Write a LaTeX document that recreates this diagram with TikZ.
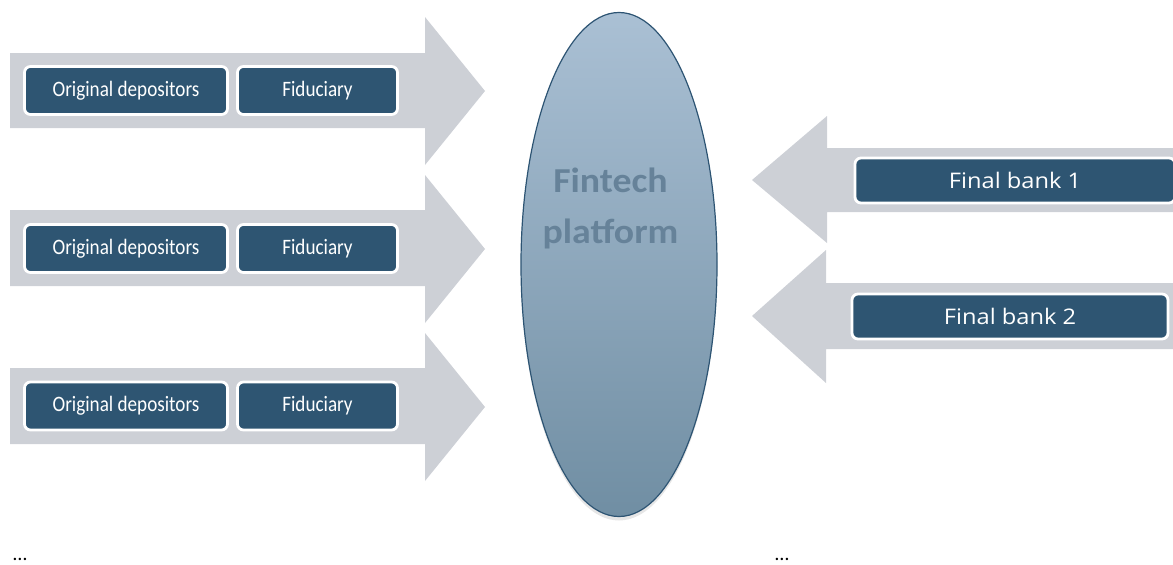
\documentclass[tikz,border=0pt]{standalone}
\usepackage{fontspec}
\setmainfont{Carlito}
\newfontfamily\tilefont[FakeStretch=0.87]{Carlito}
\newfontfamily\hubfont[FakeStretch=1.08]{Carlito}
\newfontfamily\bankfont[FakeStretch=1.1]{Open Sans}
\usetikzlibrary{shapes.geometric,shadows}
\definecolor{arrowgray}{RGB}{205,208,214}
\definecolor{boxblue}{RGB}{46,85,114}
\definecolor{platformtop}{RGB}{170,192,212}
\definecolor{platformbottom}{RGB}{112,142,163}
\definecolor{platformline}{RGB}{45,84,115}
\definecolor{platformtext}{RGB}{102,130,153}
\begin{document}
\begin{tikzpicture}
      [
      x=1pt,y=-1pt,
      flow/.style={fill=arrowgray,draw=none},
      tile/.style={rectangle,rounded corners=6pt,fill=boxblue,draw=white,line width=2.8pt,text=white,inner sep=0pt},
      depobox/.style={tile,font=\tilefont\fontsize{22}{25}\selectfont,minimum height=48pt},
      bankbox/.style={tile,font=\bankfont\fontsize{21.5}{25}\selectfont,minimum height=45pt},
      platform/.style={ellipse,draw=platformline,line width=1.2pt,top color=platformtop,bottom color=platformbottom,inner sep=0pt,minimum width=196pt,minimum height=504pt,
        drop shadow={opacity=0.2,shadow xshift=0pt,shadow yshift=-4pt}},
      etc/.style={font=\fontsize{20}{22}\selectfont,anchor=base,inner sep=0pt}
      ]
      \useasboundingbox (0,0) rectangle (1173,565);

      % arrows into the platform
      \draw [flow] (10,53) -- (425,53) -- (425,17) -- (485,91) -- (425,165) -- (425,128) -- (10,128) -- cycle;
      \draw [flow] (10,210) -- (425,210) -- (425,175) -- (485,249) -- (425,323) -- (425,286) -- (10,286) -- cycle;
      \draw [flow] (10,368) -- (425,368) -- (425,333) -- (485,407) -- (425,481) -- (425,444) -- (10,444) -- cycle;

      % arrows out of the platform
      \draw [flow] (1180,148) -- (827,148) -- (827,116) -- (752,180) -- (827,243) -- (827,212) -- (1180,212) -- cycle;
      \draw [flow] (1180,283) -- (826,283) -- (826,250) -- (752,316) -- (826,383) -- (826,349) -- (1180,349) -- cycle;

      \node (dep1) at (126,90.5) [depobox,minimum width=203pt] {Original depositors};
      \node (fid1) at (317.5,90.5) [depobox,minimum width=160pt] {Fiduciary};
      \node (dep2) at (126,248.5) [depobox,minimum width=203pt] {Original depositors};
      \node (fid2) at (317.5,248.5) [depobox,minimum width=160pt] {Fiduciary};
      \node (dep3) at (126,406) [depobox,minimum width=203pt] {Original depositors};
      \node (fid3) at (317.5,406) [depobox,minimum width=160pt] {Fiduciary};

      \node (platform) at (619,264.5) [platform] {};
      \node (platformlabel) at ([xshift=-8.5pt,yshift=56pt]platform.center) [align=center,text=platformtext,font=\hubfont\bfseries\fontsize{35}{51.3}\selectfont] {Fintech\\platform};

      \node (bank1) at (1015,180.5) [bankbox,minimum width=320pt] {Final bank 1};
      \node (bank2) at (1010,316.5) [bankbox,minimum width=316pt] {Final bank 2};

      \node (etcleft) at (20,560) [etc] {\ldots};
      \node (etcright) at (782,560) [etc] {\ldots};
    \end{tikzpicture}
\end{document}
